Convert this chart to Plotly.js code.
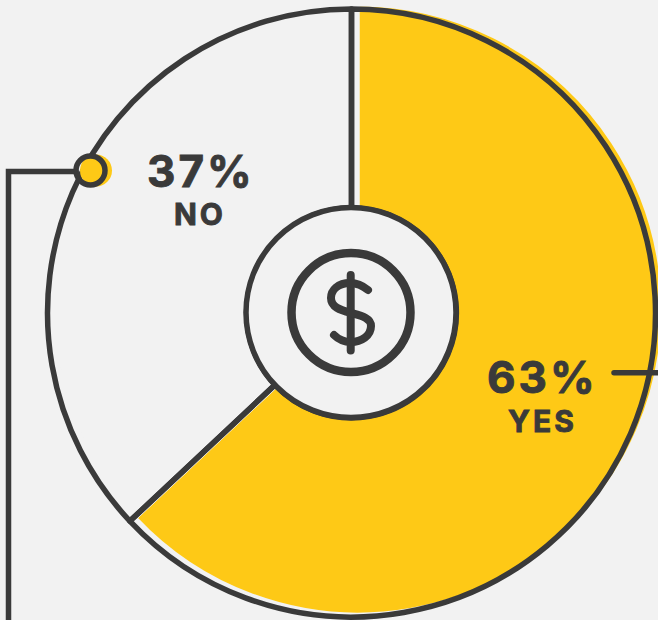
<!DOCTYPE html>
<html>
<head>
<meta charset="utf-8">
<script src="https://cdn.plot.ly/plotly-3.0.1.min.js"></script>
<style>
html,body{margin:0;padding:0;width:658px;height:620px;overflow:hidden;background:#f2f2f2}
.shapelayer path{stroke-linecap:round;stroke-linejoin:miter}
.annotation-text{letter-spacing:3px;stroke:#3a3a3a;stroke-width:0.9px}
</style>
</head>
<body>
<div id="chart"></div>
<script>
var categories = ['YES', 'NO'];
var shareValues = [63, 37];
var W = 680, H = 620;
var BG = '#f2f2f2', DARK = '#3a3a3a', YELLOW = '#fec916';
var FONT = 'Inter, "DejaVu Sans", sans-serif';

function X(x){return x / W;}
function Y(y){return 1 - y / H;}
function dom(cx, cy, r){
  return {x:[X(cx - r), X(cx + r)], y:[Y(cy + r), Y(cy - r)]};
}
function circle(cx, cy, r, fill, color, width){
  return {type:'circle', xref:'paper', yref:'paper', layer:'above',
    x0:X(cx - r), x1:X(cx + r), y0:Y(cy + r), y1:Y(cy - r),
    fillcolor:fill, line:{color:color, width:width}};
}
function path(cmds, width){
  var d = cmds.map(function(c){
    return c[0] + c.slice(1).map(function(v, i){
      return (i % 2 === 0 ? X(v) : Y(v)).toFixed(5);
    }).join(',');
  }).join(' ');
  return {type:'path', xref:'paper', yref:'paper', layer:'above', path:d,
    fillcolor:'rgba(0,0,0,0)', line:{color:DARK, width:width}};
}

var traces = [
  {type:'pie', values:shareValues, labels:categories, sort:false, direction:'clockwise', rotation:0,
   domain:dom(358, 309.5, 304.5), textinfo:'none', hoverinfo:'skip', showlegend:false,
   marker:{colors:[YELLOW, BG], line:{color:BG, width:3}}},
  {type:'pie', values:shareValues, labels:categories, sort:false, direction:'clockwise', rotation:0,
   domain:dom(351.5, 313, 304), hole:0.345, textinfo:'none', hoverinfo:'skip', showlegend:false,
   marker:{colors:['rgba(0,0,0,0)', 'rgba(0,0,0,0)'], line:{color:DARK, width:5.5}}}
];

var shapes = [
  circle(351, 312.5, 105, BG, DARK, 5.5),
  circle(351, 312.5, 59.5, 'rgba(0,0,0,0)', DARK, 8.5),
  path([['M',350.7,275],['L',350.7,350.5]], 8),
  path([['M',368,290],['C',362,285,356,283,350,283],['C',338,283,331,290,331,298],
        ['C',331,307,340,310,351,313],['C',362,316,371,318,371,326],
        ['C',371,336,361,342,351,342],['C',344,342,338,339,334,335]], 8),
  path([['M',614,372.7],['L',660,372.7]], 5.5),
  path([['M',76,171.5],['L',8.5,171.5],['L',8.5,625]], 5.5),
  circle(96, 170.5, 16, YELLOW, YELLOW, 0),
  circle(90.5, 170.5, 14.5, 'rgba(0,0,0,0)', DARK, 5.5)
];

function note(text, cx, cy, size){
  return {xref:'paper', yref:'paper', x:X(cx), y:Y(cy), xanchor:'center', yanchor:'middle',
    showarrow:false, text:'<b>' + text + '</b>', font:{family:FONT, size:size, color:DARK}};
}
var annotations = [
  note(shareValues[1] + '%', 201, 171, 44),
  note(categories[1], 200, 214, 30),
  note(shareValues[0] + '%', 542.5, 377, 44),
  note(categories[0], 542, 421, 30)
];

Plotly.newPlot('chart', traces, {
  width:W, height:H, margin:{l:0, r:0, t:0, b:0},
  paper_bgcolor:BG, plot_bgcolor:BG, showlegend:false,
  shapes:shapes, annotations:annotations
}, {displayModeBar:false, staticPlot:true});
</script>
</body>
</html>
